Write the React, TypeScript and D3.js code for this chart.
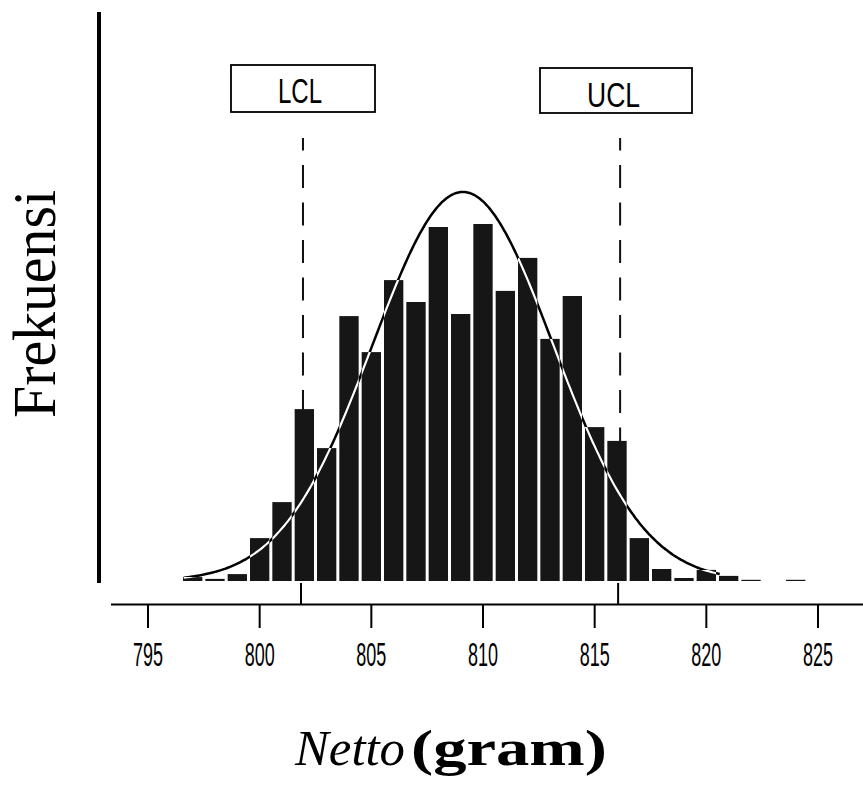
import React from "react";
import * as d3 from "d3";

// ---- data ----
const bins = [797, 798, 799, 800, 801, 802, 803, 804, 805, 806, 807, 808, 809, 810, 811, 812, 813, 814, 815, 816, 817, 818, 819, 820, 821, 822, 823, 824];
const freq = [1.3, 0.7, 2.3, 14.3, 26.3, 57.3, 44.3, 88.3, 76.3, 100.3, 93, 118, 89, 119, 96.7, 107.7, 80.7, 95, 51.3, 46.7, 14.3, 4, 1, 3.7, 1.7, 0.4, 0, 0.4];
const xTicks = [795, 800, 805, 810, 815, 820, 825];
const controlLimits = [
  { label: "LCL", value: 801.85 },
  { label: "UCL", value: 816.05 },
];
// fitted normal curve parameters
const curveMean = 809.1;
const curveSd = 4.05;
const curvePeak = 129.7;
const curveRange = [796.6, 820.6];

const W = 863;
const H = 790;

export default function App() {
  const x = d3.scaleLinear().domain([795, 825]).range([148, 818]);
  const y = d3.scaleLinear().domain([0, 130]).range([581, 191]);
  const step = x(1) - x(0);

  const curvePts: [number, number][] = d3
    .range(curveRange[0], curveRange[1] + 0.001, 0.1)
    .map((v) => [v, curvePeak * Math.exp(-0.5 * ((v - curveMean) / curveSd) ** 2)]);
  const line = d3
    .line<[number, number]>()
    .x((d) => x(d[0]))
    .y((d) => y(d[1]))
    .curve(d3.curveBasis);
  const curvePath = line(curvePts) || "";

  const bars = bins.map((b, i) => ({
    x0: x(b - 0.5) + 1.5,
    w: step - 3,
    top: y(freq[i]),
    h: y(0) - y(freq[i]),
  }));

  const boxes = [
    { x0: 231, y0: 65, x1: 375, y1: 112, tx: 300, ty: 103, tl: 44 },
    { x0: 540, y0: 68, x1: 692, y1: 113, tx: 613.5, ty: 107, tl: 53 },
  ];

  return (
    <div style={{ position: "absolute", left: 0, top: 0 }}>
      <svg width={W} height={H} viewBox={`0 0 ${W} ${H}`} style={{ display: "block", background: "#fff" }}>
        <defs>
          <clipPath id="barClip">
            {bars.map((b, i) => (
              <rect key={i} x={b.x0} y={b.top} width={b.w} height={b.h} />
            ))}
          </clipPath>
        </defs>

        {/* control limit dashed lines */}
        {controlLimits.map((c) => (
          <line
            key={c.label}
            x1={x(c.value) + 2}
            x2={x(c.value) + 2}
            y1={138}
            y2={y(0)}
            stroke="#111"
            strokeWidth={2}
            strokeDasharray="23 14.5"
            strokeDashoffset={10.5}
          />
        ))}

        {/* bars */}
        {bars.map((b, i) => (
          <rect key={i} x={b.x0} y={b.top} width={b.w} height={Math.max(b.h, 0)} fill="#161616" />
        ))}

        {/* normal curve: black outside bars, white over bars */}
        <path d={curvePath} fill="none" stroke="#000" strokeWidth={2.5} />
        <path d={curvePath} fill="none" stroke="#fff" strokeWidth={2.2} clipPath="url(#barClip)" />

        {/* y axis line */}
        <line x1={99} x2={99} y1={12} y2={583} stroke="#000" strokeWidth={4} />

        {/* x axis */}
        <line x1={111} x2={863} y1={604.5} y2={604.5} stroke="#000" strokeWidth={2} />
        {xTicks.map((t) => (
          <g key={t}>
            <line x1={x(t)} x2={x(t)} y1={604.5} y2={628} stroke="#000" strokeWidth={2} />
            <text
              x={x(t)}
              y={666}
              textAnchor="middle"
              fontFamily="'Liberation Sans', Arial, sans-serif"
              fontSize={33}
              textLength={30}
              lengthAdjust="spacingAndGlyphs"
              fill="#000"
            >
              {t}
            </text>
          </g>
        ))}
        {controlLimits.map((c) => (
          <line key={c.label} x1={x(c.value)} x2={x(c.value)} y1={583} y2={604.5} stroke="#000" strokeWidth={2} />
        ))}

        {/* LCL / UCL boxes */}
        {controlLimits.map((c, i) => {
          const b = boxes[i];
          return (
            <g key={c.label}>
              <rect x={b.x0} y={b.y0} width={b.x1 - b.x0} height={b.y1 - b.y0} fill="#fff" stroke="#000" strokeWidth={1.8} />
              <text
                x={b.tx}
                y={b.ty}
                textAnchor="middle"
                fontFamily="'Liberation Sans', Arial, sans-serif"
                fontSize={35}
                textLength={b.tl}
                lengthAdjust="spacingAndGlyphs"
                fill="#000"
              >
                {c.label}
              </text>
            </g>
          );
        })}

        {/* y label */}
        <text
          transform="translate(55,304) rotate(-90)"
          textAnchor="middle"
          fontFamily="'Liberation Serif', 'Times New Roman', serif"
          fontSize={62}
          textLength={228}
          lengthAdjust="spacingAndGlyphs"
          fill="#000"
        >
          Frekuensi
        </text>

        {/* x label */}
        <text
          x={295}
          y={765}
          fontFamily="'Liberation Serif', 'Times New Roman', serif"
          fontSize={50}
          fontStyle="italic"
          textLength={110}
          lengthAdjust="spacingAndGlyphs"
          fill="#000"
        >
          Netto
        </text>
        <text
          x={411}
          y={765}
          fontFamily="'Liberation Serif', 'Times New Roman', serif"
          fontSize={50}
          fontWeight="bold"
          textLength={196}
          lengthAdjust="spacingAndGlyphs"
          fill="#000"
        >
          (gram)
        </text>
      </svg>
    </div>
  );
}
